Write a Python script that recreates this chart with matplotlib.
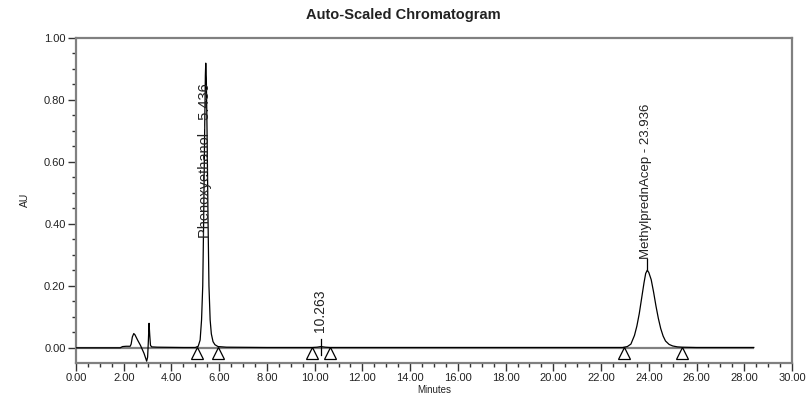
import matplotlib
matplotlib.use("Agg")
import matplotlib.pyplot as plt
from matplotlib.ticker import MultipleLocator, FormatStrFormatter

plt.rcParams['font.family'] = ['Liberation Sans', 'DejaVu Sans']

# ---- data ----
time_min = [0.0, 1.85, 1.95, 2.1, 2.27, 2.31, 2.36, 2.42, 2.47, 2.58, 2.7, 2.85, 2.96, 3.0,
            3.03, 3.06, 3.09, 3.12, 3.17, 3.4, 4.5, 5.0, 5.12, 5.2, 5.26, 5.31, 5.35, 5.39,
            5.42, 5.436, 5.46, 5.49, 5.53, 5.57, 5.62, 5.67, 5.74, 5.82, 5.95, 6.3, 8.0, 9.9,
            10.1, 10.263, 10.45, 10.65, 12.0, 16.0, 20.0, 22.9, 23.1, 23.25, 23.4, 23.5, 23.6,
            23.7, 23.8, 23.87, 23.936, 24.0, 24.1, 24.2, 24.3, 24.4, 24.5, 24.6, 24.7, 24.85,
            25.0, 25.2, 25.4, 26.0, 28.4]
au = [0.0, 0.0, 0.004, 0.005, 0.005, 0.012, 0.035, 0.046, 0.042, 0.025, 0.008, -0.018, -0.043,
      -0.03, 0.02, 0.079, 0.04, 0.008, 0.003, 0.002, 0.001, 0.001, 0.005, 0.025, 0.09, 0.2,
      0.42, 0.7, 0.88, 0.918, 0.87, 0.7, 0.42, 0.2, 0.09, 0.045, 0.02, 0.01, 0.004, 0.002,
      0.001, 0.001, 0.002, 0.004, 0.002, 0.001, 0.001, 0.001, 0.001, 0.001, 0.004, 0.012,
      0.04, 0.07, 0.11, 0.16, 0.21, 0.24, 0.25, 0.243, 0.22, 0.18, 0.135, 0.095, 0.062, 0.038,
      0.022, 0.011, 0.006, 0.003, 0.002, 0.001, 0.001]

peak_names = ["Phenoxyethanol - 5.436", "10.263", "MethylprednAcep - 23.936"]
peak_rt = [5.436, 10.263, 23.936]
label_y = [0.355, 0.05, 0.288]
label_size = [10.5, 10.0, 9.5]
peak_start = [5.06, 9.88, 22.97]
peak_end = [5.94, 10.65, 25.39]
run_end = 28.4

fig = plt.figure(figsize=(8.07, 3.99), dpi=100)
ax = fig.add_axes([0.0942, 0.0902, 0.8872, 0.8153])

gray = '#808080'
# baseline
ax.plot([0, run_end], [0, 0], color=gray, lw=1.6, zorder=2, solid_capstyle='butt')
# signal
ax.plot(time_min, au, color='black', lw=0.9, zorder=3)

# peak start/end markers
tri_x = peak_start + peak_end
ax.plot(tri_x, [-0.018] * len(tri_x), linestyle='none', marker='^', markersize=8.5,
        markerfacecolor='none', markeredgecolor='black', markeredgewidth=0.9, zorder=4)

# peak labels
for name, rt, ly, fs in zip(peak_names, peak_rt, label_y, label_size):
    ax.text(rt - 0.05, ly, name, rotation=90, ha='center', va='bottom', fontsize=fs,
            color='#222222', zorder=5)
ax.plot([10.263, 10.263], [-0.024, 0.03], color='black', lw=0.9, zorder=4)
ax.plot([23.936, 23.936], [0.25, 0.285], color='black', lw=0.9, zorder=4)

ax.set_xlim(0, 30)
ax.set_ylim(-0.049, 1.0)

ax.xaxis.set_major_locator(MultipleLocator(2))
ax.xaxis.set_minor_locator(MultipleLocator(0.5))
ax.yaxis.set_major_locator(MultipleLocator(0.2))
ax.yaxis.set_minor_locator(MultipleLocator(0.05))
ax.xaxis.set_major_formatter(FormatStrFormatter('%.2f'))
ax.yaxis.set_major_formatter(FormatStrFormatter('%.2f'))

for s in ax.spines.values():
    s.set_color(gray)
    s.set_linewidth(1.6)

ax.tick_params(axis='both', which='major', length=6, width=1.0, color='#333333',
               labelsize=8, labelcolor='#222222', pad=1.5)
ax.tick_params(axis='both', which='minor', length=3, width=1.0, color='#333333')

ax.set_xlabel("Minutes", fontsize=7, color='#222222', labelpad=1)
ax.set_ylabel("AU", fontsize=7.5, color='#222222', labelpad=10)

fig.text(0.5, 0.963, "Auto-Scaled Chromatogram", ha='center', va='center',
         fontsize=10.5, fontweight='bold', color='#222222')

fig.savefig("out.png", dpi=100)
